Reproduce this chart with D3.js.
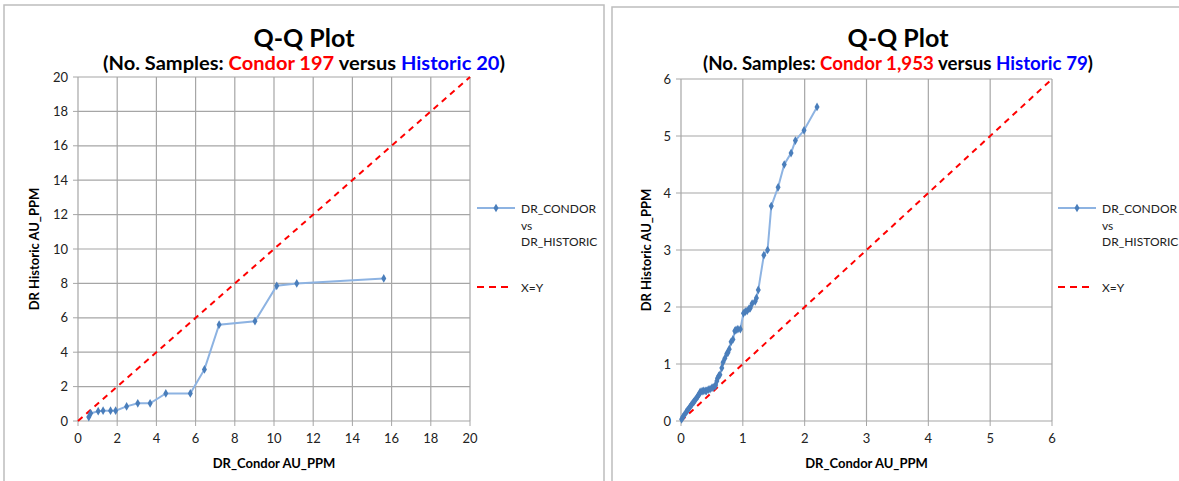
<!DOCTYPE html>
<html><head><meta charset="utf-8">
<script src="https://cdn.jsdelivr.net/npm/d3@7"></script>
<style>body{margin:0;background:#fff}svg{display:block}text{font-family:Lato,"Open Sans",sans-serif}</style>
</head><body><svg id="c" width="1179" height="481"></svg>
<script>
// Left chart data
const leftCondor = [0.55,0.65,1.03,1.28,1.66,1.92,2.48,3.05,3.68,4.48,5.73,6.45,7.2,9.03,10.14,11.16,15.6];
const leftHistoric = [0.23,0.45,0.57,0.6,0.6,0.6,0.85,1.03,1.03,1.6,1.6,3.0,5.6,5.8,7.86,8.0,8.29];
const leftTicks = [0,2,4,6,8,10,12,14,16,18,20];
// Right chart data
const rightCondor = [0.01,0.03,0.05,0.08,0.10,0.12,0.14,0.16,0.18,0.20,0.21,0.23,0.25,0.27,0.28,0.30,0.31,0.34,0.36,0.39,0.41,0.44,0.47,0.50,0.52,0.55,0.56,0.58,0.59,0.61,0.63,0.66,0.68,0.71,0.74,0.76,0.78,0.81,0.84,0.87,0.89,0.92,0.96,1.01,1.04,1.07,1.10,1.12,1.15,1.20,1.22,1.25,1.34,1.40,1.46,1.57,1.67,1.78,1.85,1.99,2.20];
const rightHistoric = [0.03,0.07,0.10,0.15,0.18,0.21,0.24,0.27,0.30,0.33,0.34,0.37,0.40,0.43,0.45,0.48,0.51,0.52,0.53,0.53,0.53,0.55,0.56,0.58,0.59,0.61,0.63,0.70,0.75,0.79,0.81,0.93,1.03,1.10,1.18,1.20,1.26,1.39,1.43,1.58,1.60,1.61,1.61,1.89,1.92,1.93,1.97,1.98,2.06,2.10,2.16,2.30,2.91,3.00,3.77,4.10,4.50,4.70,4.92,5.10,5.51];
const rightTicks = [0,1,2,3,4,5,6];
const seriesName = ["DR_CONDOR","vs","DR_HISTORIC"];
const diagName = "X=Y";

const svg = d3.select("#c");
svg.append("rect").attr("width",1179).attr("height",481).attr("fill","#fff");

function panel(o){
  const g = svg.append("g");
  g.append("rect").attr("x",o.px).attr("y",o.py).attr("width",600).attr("height",500)
    .attr("fill","#fff").attr("stroke","#bdbdbd").attr("stroke-width",1.5);
  const x = d3.scaleLinear().domain([0,o.max]).range([o.x0,o.x1]);
  const y = d3.scaleLinear().domain([0,o.max]).range([o.y0,o.y1]);
  // grid
  g.selectAll(".gx").data(o.ticks).join("line")
    .attr("x1",d=>x(d)).attr("x2",d=>x(d)).attr("y1",y(0)).attr("y2",y(o.max))
    .attr("stroke","#a6a6a6").attr("stroke-width",1.2);
  g.selectAll(".gy").data(o.ticks).join("line")
    .attr("y1",d=>y(d)).attr("y2",d=>y(d)).attr("x1",x(0)).attr("x2",x(o.max))
    .attr("stroke","#a6a6a6").attr("stroke-width",1.2);
  // tick marks on axes
  g.selectAll(".tx").data(o.ticks).join("line")
    .attr("x1",d=>x(d)).attr("x2",d=>x(d)).attr("y1",y(0)).attr("y2",y(0)+5).attr("stroke","#a6a6a6");
  g.selectAll(".ty").data(o.ticks).join("line")
    .attr("y1",d=>y(d)).attr("y2",d=>y(d)).attr("x1",x(0)-5).attr("x2",x(0)).attr("stroke","#a6a6a6");
  // tick labels
  g.selectAll(".lx").data(o.ticks).join("text")
    .attr("x",d=>x(d)).attr("y",y(0)+22).attr("text-anchor","middle")
    .attr("font-size",13).attr("fill","#222").text(d=>d);
  g.selectAll(".ly").data(o.ticks).join("text")
    .attr("x",x(0)-10).attr("y",d=>y(d)+4.5).attr("text-anchor","end")
    .attr("font-size",13).attr("fill","#222").text(d=>d);
  // diagonal
  g.append("line").attr("x1",x(0)).attr("y1",y(0)).attr("x2",x(o.max)).attr("y2",y(o.max))
    .attr("stroke","#ff0000").attr("stroke-width",2).attr("stroke-dasharray","6,5");
  // series
  const pts = o.xs.map((v,i)=>[v,o.ys[i]]);
  g.append("path").datum(pts).attr("fill","none").attr("stroke","#8db3e2").attr("stroke-width",2)
    .attr("d",d3.line().x(d=>x(d[0])).y(d=>y(d[1])));
  const sym = d3.symbol().type(d3.symbolDiamond).size(22);
  g.selectAll(".m").data(pts).join("path").attr("d",sym)
    .attr("transform",d=>`translate(${x(d[0])},${y(d[1])})`).attr("fill","#4a7ebb");
  // titles
  g.append("text").attr("x",o.tc).attr("y",47).attr("text-anchor","middle")
    .attr("font-size",25).attr("font-weight","bold").attr("fill","#000").text("Q-Q Plot");
  const st = g.append("text").attr("x",o.tc).attr("y",70).attr("text-anchor","middle")
    .attr("font-size",18).attr("font-weight","bold").attr("textLength",o.stw).attr("lengthAdjust","spacingAndGlyphs");
  st.append("tspan").attr("fill","#000").text("(No. Samples: ");
  st.append("tspan").attr("fill","#ff0000").text("Condor "+o.nC);
  st.append("tspan").attr("fill","#000").text(" versus ");
  st.append("tspan").attr("fill","#0000ff").text("Historic "+o.nH);
  st.append("tspan").attr("fill","#000").text(")");
  // axis titles
  g.append("text").attr("x",(x(0)+x(o.max))/2).attr("y",468).attr("text-anchor","middle")
    .attr("font-size",13).attr("font-weight","bold").attr("fill","#000").text("DR_Condor AU_PPM");
  g.append("text").attr("transform",`translate(${o.ytx},${(y(0)+y(o.max))/2}) rotate(-90)`)
    .attr("text-anchor","middle").attr("font-size",13).attr("font-weight","bold").attr("fill","#000").text("DR Historic AU_PPM");
  // legend
  const lx = o.lgx;
  g.append("line").attr("x1",lx).attr("x2",lx+38).attr("y1",208).attr("y2",208).attr("stroke","#8db3e2").attr("stroke-width",2);
  g.append("path").attr("d",sym).attr("transform",`translate(${lx+19},208)`).attr("fill","#4a7ebb");
  seriesName.forEach((t,i)=>g.append("text").attr("x",lx+44).attr("y",213+i*16.5).attr("font-size",12).attr("fill","#222").text(t));
  g.append("line").attr("x1",lx).attr("x2",lx+36).attr("y1",287).attr("y2",287).attr("stroke","#ff0000").attr("stroke-width",2).attr("stroke-dasharray","7,5");
  g.append("text").attr("x",lx+44).attr("y",292).attr("font-size",12).attr("fill","#222").text(diagName);
}

panel({px:4,py:5,x0:78,x1:470,y0:421,y1:77,max:20,ticks:leftTicks,xs:leftCondor,ys:leftHistoric,
  tc:304,stw:402,nC:"197",nH:"20",ytx:39,lgx:477});
panel({px:612,py:7,x0:681,x1:1052,y0:421,y1:79,max:6,ticks:rightTicks,xs:rightCondor,ys:rightHistoric,
  tc:898,stw:390,nC:"1,953",nH:"79",ytx:651,lgx:1058});
</script></body></html>
